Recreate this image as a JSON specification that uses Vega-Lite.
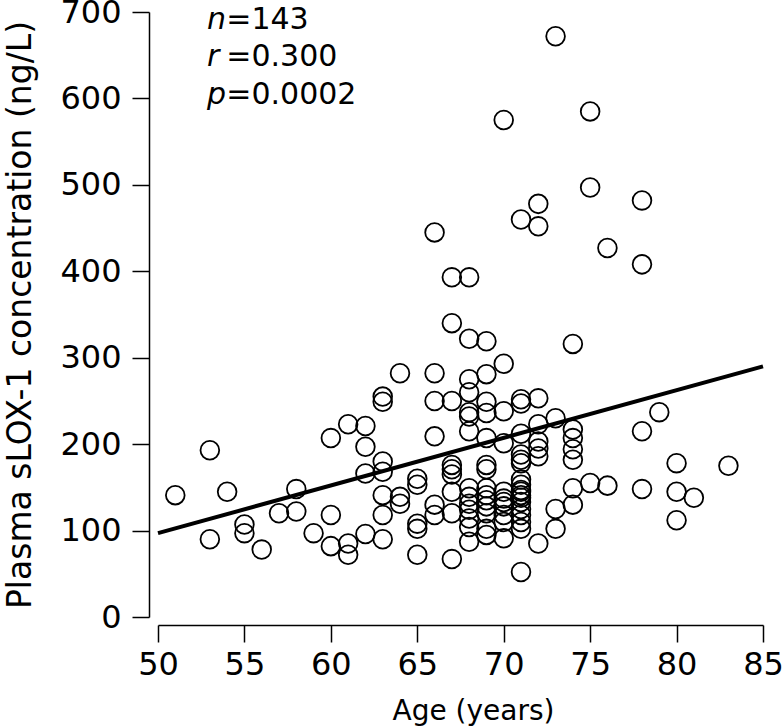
{
  "$schema": "https://vega.github.io/schema/vega-lite/v6.json",
  "width": 605,
  "height": 605,
  "autosize": "none",
  "padding": {"left": 158, "top": 12, "right": 21, "bottom": 111},
  "background": "white",
  "config": {
    "view": {"stroke": null},
    "font": "DejaVu Sans",
    "axis": {
      "grid": false,
      "domainColor": "black",
      "domainWidth": 1.5,
      "tickColor": "black",
      "tickWidth": 1.5,
      "tickSize": 17,
      "labelColor": "black",
      "labelFont": "DejaVu Sans",
      "labelFontSize": 32,
      "titleColor": "black",
      "titleFont": "DejaVu Sans",
      "titleFontWeight": "normal"
    }
  },
  "datasets": {
    "pts": [
      {"age": 51, "v": 141},
      {"age": 53, "v": 193}, {"age": 53, "v": 90},
      {"age": 54, "v": 145},
      {"age": 55, "v": 107}, {"age": 55, "v": 97},
      {"age": 56, "v": 78},
      {"age": 57, "v": 120},
      {"age": 58, "v": 148}, {"age": 58, "v": 122},
      {"age": 59, "v": 97},
      {"age": 60, "v": 207}, {"age": 60, "v": 118}, {"age": 60, "v": 82},
      {"age": 61, "v": 223}, {"age": 61, "v": 85}, {"age": 61, "v": 72},
      {"age": 62, "v": 221}, {"age": 62, "v": 197}, {"age": 62, "v": 166}, {"age": 62, "v": 96},
      {"age": 63, "v": 255}, {"age": 63, "v": 249}, {"age": 63, "v": 180}, {"age": 63, "v": 168}, {"age": 63, "v": 141}, {"age": 63, "v": 118}, {"age": 63, "v": 90},
      {"age": 64, "v": 282}, {"age": 64, "v": 139}, {"age": 64, "v": 131},
      {"age": 65, "v": 160}, {"age": 65, "v": 153}, {"age": 65, "v": 108}, {"age": 65, "v": 102}, {"age": 65, "v": 72},
      {"age": 66, "v": 445}, {"age": 66, "v": 282}, {"age": 66, "v": 250}, {"age": 66, "v": 209}, {"age": 66, "v": 130}, {"age": 66, "v": 118},
      {"age": 67, "v": 393}, {"age": 67, "v": 340}, {"age": 67, "v": 250}, {"age": 67, "v": 176}, {"age": 67, "v": 171}, {"age": 67, "v": 165}, {"age": 67, "v": 145}, {"age": 67, "v": 120}, {"age": 67, "v": 67},
      {"age": 68, "v": 393}, {"age": 68, "v": 322}, {"age": 68, "v": 275}, {"age": 68, "v": 260}, {"age": 68, "v": 237}, {"age": 68, "v": 232}, {"age": 68, "v": 215}, {"age": 68, "v": 149}, {"age": 68, "v": 139}, {"age": 68, "v": 131}, {"age": 68, "v": 124}, {"age": 68, "v": 114}, {"age": 68, "v": 104}, {"age": 68, "v": 87},
      {"age": 69, "v": 319}, {"age": 69, "v": 281}, {"age": 69, "v": 249}, {"age": 69, "v": 236}, {"age": 69, "v": 207}, {"age": 69, "v": 176}, {"age": 69, "v": 171}, {"age": 69, "v": 149}, {"age": 69, "v": 141}, {"age": 69, "v": 135}, {"age": 69, "v": 128}, {"age": 69, "v": 120}, {"age": 69, "v": 102}, {"age": 69, "v": 95},
      {"age": 70, "v": 575}, {"age": 70, "v": 293}, {"age": 70, "v": 238}, {"age": 70, "v": 201}, {"age": 70, "v": 145}, {"age": 70, "v": 137}, {"age": 70, "v": 133}, {"age": 70, "v": 128}, {"age": 70, "v": 118}, {"age": 70, "v": 110}, {"age": 70, "v": 91},
      {"age": 71, "v": 460}, {"age": 71, "v": 252}, {"age": 71, "v": 247}, {"age": 71, "v": 212}, {"age": 71, "v": 188}, {"age": 71, "v": 182}, {"age": 71, "v": 178}, {"age": 71, "v": 159}, {"age": 71, "v": 153}, {"age": 71, "v": 147}, {"age": 71, "v": 145}, {"age": 71, "v": 141}, {"age": 71, "v": 138}, {"age": 71, "v": 133}, {"age": 71, "v": 125}, {"age": 71, "v": 118}, {"age": 71, "v": 110}, {"age": 71, "v": 102}, {"age": 71, "v": 52},
      {"age": 72, "v": 478}, {"age": 72, "v": 452}, {"age": 72, "v": 253}, {"age": 72, "v": 223}, {"age": 72, "v": 203}, {"age": 72, "v": 195}, {"age": 72, "v": 186}, {"age": 72, "v": 85},
      {"age": 73, "v": 672}, {"age": 73, "v": 230}, {"age": 73, "v": 125}, {"age": 73, "v": 102},
      {"age": 74, "v": 316}, {"age": 74, "v": 217}, {"age": 74, "v": 207}, {"age": 74, "v": 194}, {"age": 74, "v": 182}, {"age": 74, "v": 149}, {"age": 74, "v": 130},
      {"age": 75, "v": 585}, {"age": 75, "v": 497}, {"age": 75, "v": 155},
      {"age": 76, "v": 427}, {"age": 76, "v": 152},
      {"age": 78, "v": 482}, {"age": 78, "v": 408}, {"age": 78, "v": 215}, {"age": 78, "v": 148},
      {"age": 79, "v": 237},
      {"age": 80, "v": 178}, {"age": 80, "v": 145}, {"age": 80, "v": 112},
      {"age": 81, "v": 138},
      {"age": 83, "v": 175}
    ],
    "fit": [
      {"age": 50, "v": 97},
      {"age": 85, "v": 290}
    ],
    "stats": [
      {"sym": "n", "rest": "=143", "row": 691},
      {"sym": "r", "rest": "=0.300", "row": 648},
      {"sym": "p", "rest": "=0.0002", "row": 604}
    ]
  },
  "layer": [
    {
      "data": {"name": "pts"},
      "mark": {"type": "point", "shape": "circle", "filled": false, "stroke": "black", "strokeWidth": 1.8, "size": 350, "opacity": 1},
      "encoding": {
        "x": {
          "field": "age", "type": "quantitative",
          "scale": {"domain": [50, 85], "nice": false, "zero": false},
          "axis": {"title": "Age (years)", "titleFontSize": 28, "values": [50, 55, 60, 65, 70, 75, 80, 85], "offset": 8, "labelPadding": 7, "titlePadding": 17, "titleX": 315, "labelFlush": false}
        },
        "y": {
          "field": "v", "type": "quantitative",
          "scale": {"domain": [0, 700], "nice": false},
          "axis": {"title": "Plasma sLOX-1 concentration (ng/L)", "titleFontSize": 33, "values": [0, 100, 200, 300, 400, 500, 600, 700], "offset": 9, "labelPadding": 11, "titlePadding": 22, "labelFlush": false}
        }
      }
    },
    {
      "data": {"name": "fit"},
      "mark": {"type": "line", "color": "black", "strokeWidth": 4},
      "encoding": {
        "x": {"field": "age", "type": "quantitative"},
        "y": {"field": "v", "type": "quantitative"}
      }
    },
    {
      "data": {"name": "stats"},
      "mark": {"type": "text", "align": "left", "baseline": "middle", "font": "DejaVu Sans", "fontStyle": "italic", "fontSize": 30, "color": "black"},
      "encoding": {
        "x": {"datum": 52.84},
        "y": {"field": "row", "type": "quantitative"},
        "text": {"field": "sym"}
      }
    },
    {
      "data": {"name": "stats"},
      "mark": {"type": "text", "align": "left", "baseline": "middle", "font": "DejaVu Sans", "fontSize": 30, "color": "black"},
      "encoding": {
        "x": {"datum": 53.95},
        "y": {"field": "row", "type": "quantitative"},
        "text": {"field": "rest"}
      }
    }
  ]
}
